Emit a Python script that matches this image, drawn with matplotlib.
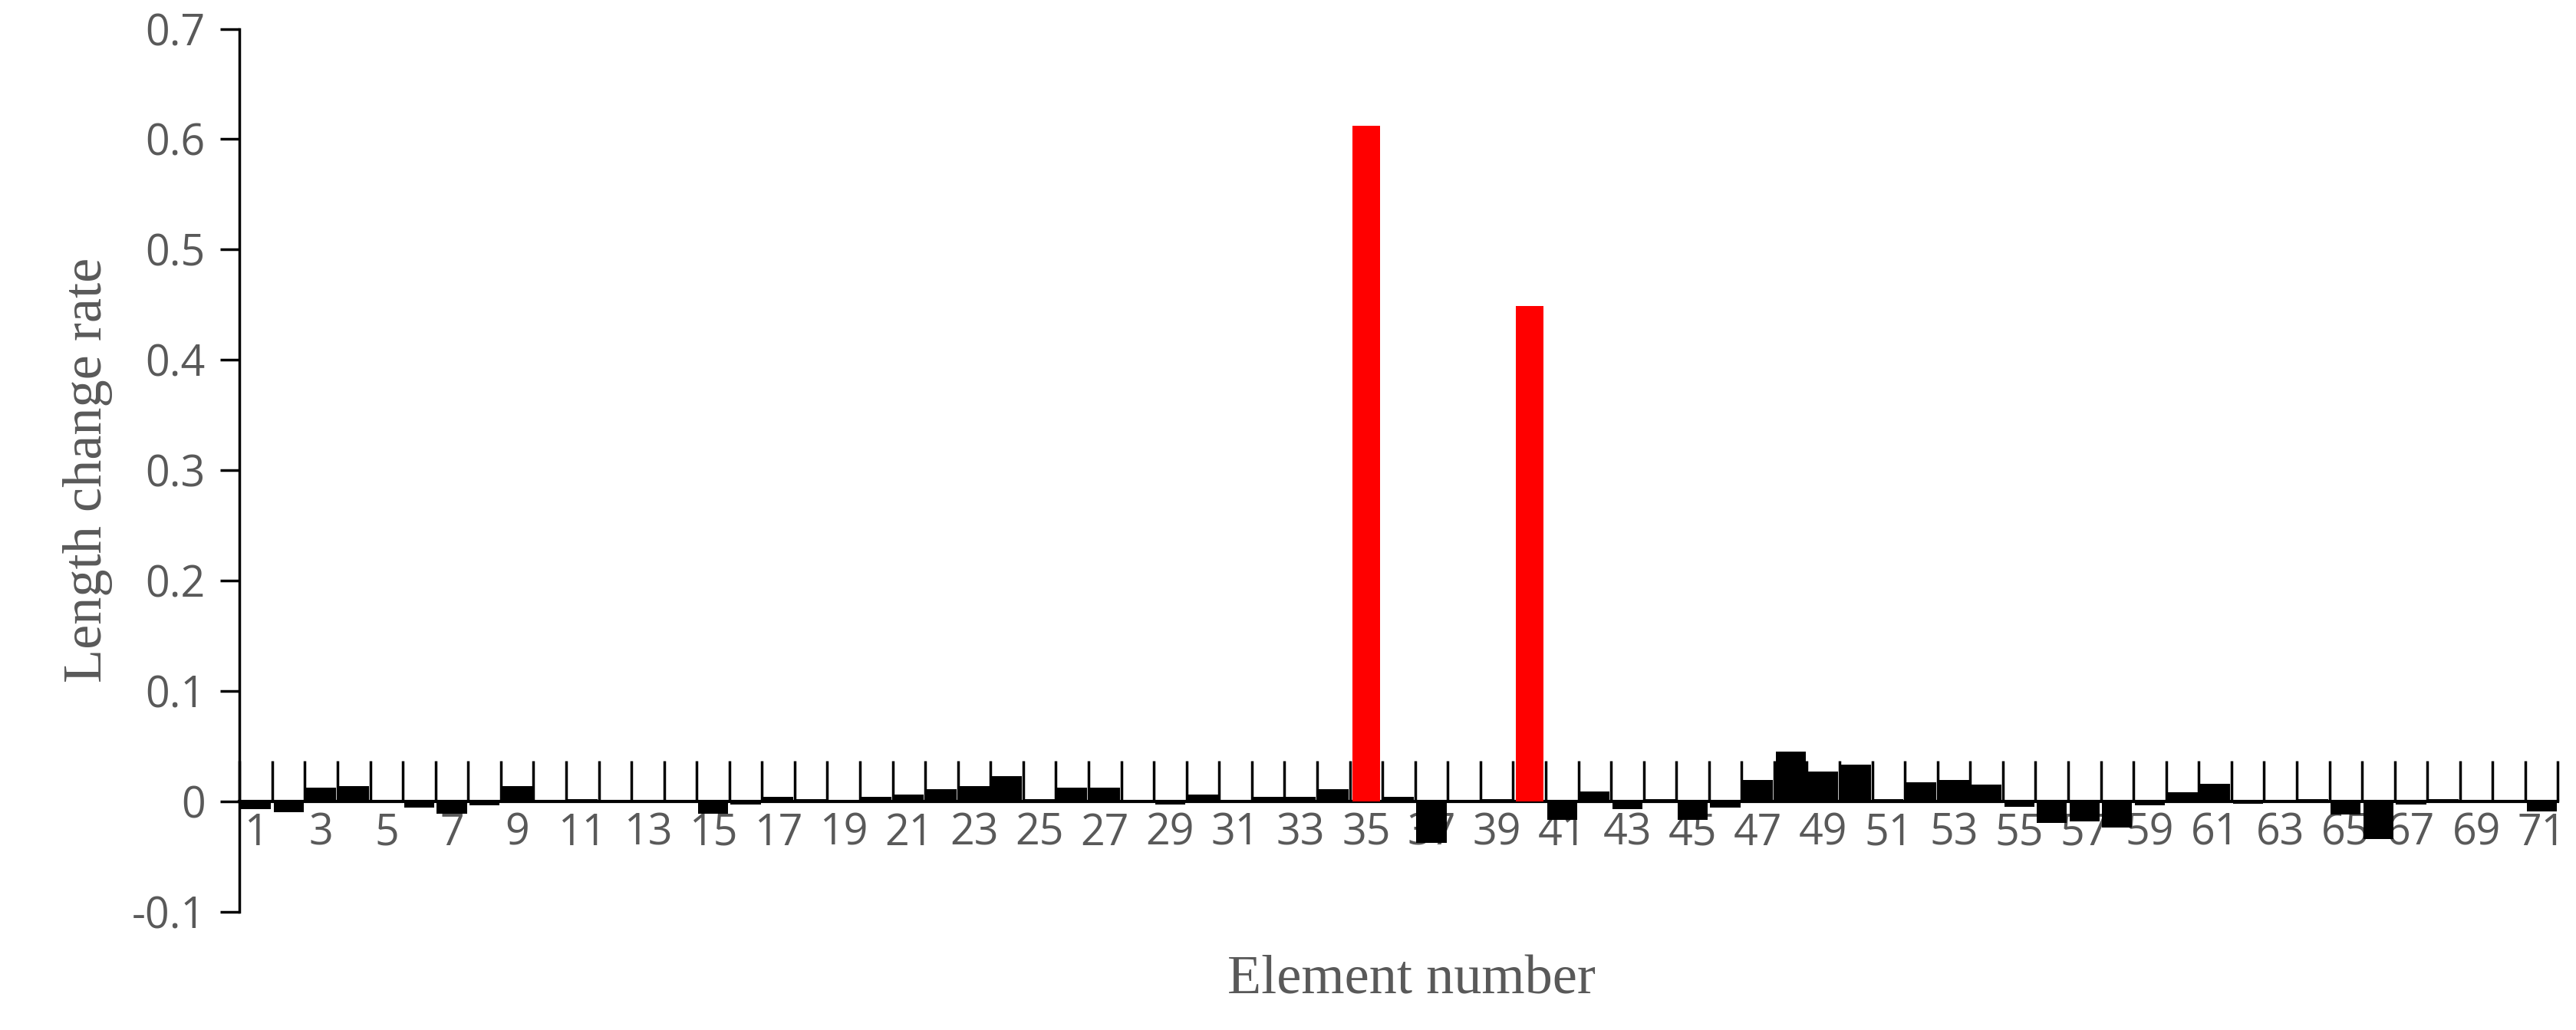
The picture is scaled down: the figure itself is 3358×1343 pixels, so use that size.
import matplotlib
matplotlib.use("Agg")
import matplotlib.pyplot as plt
import numpy as np

elements = list(range(1, 72))
values = [-0.007, -0.010, 0.012, 0.014, 0.0, -0.006, -0.011, -0.004, 0.014, 0.0,
          0.002, 0.0, 0.0, 0.0, -0.011, -0.003, 0.004, 0.002, 0.0, 0.004,
          0.006, 0.011, 0.014, 0.023, 0.002, 0.012, 0.012, 0.0, -0.003, 0.006,
          0.0, 0.004, 0.004, 0.011, 0.612, 0.004, -0.038, 0.0, 0.002, 0.449,
          -0.017, 0.009, -0.007, 0.002, -0.017, -0.006, 0.019, 0.045, 0.027, 0.033,
          0.002, 0.017, 0.019, 0.015, -0.005, -0.020, -0.018, -0.024, -0.004, 0.008,
          0.016, -0.002, 0.0, 0.002, -0.012, -0.034, -0.003, 0.002, 0.0, 0.0, -0.009]
highlight = [35, 40]
yticks = [-0.1, 0, 0.1, 0.2, 0.3, 0.4, 0.5, 0.6, 0.7]
ytick_labels = ["-0.1", "0", "0.1", "0.2", "0.3", "0.4", "0.5", "0.6", "0.7"]

fig = plt.figure(figsize=(33.58, 13.43), dpi=100)
ax = fig.add_axes([0.093, 0.115, 0.9, 0.857])
colors = ["red" if e in highlight else "black" for e in elements]
widths = [0.85 if e in highlight else 0.92 for e in elements]
ax.bar(elements, values, width=widths, color=colors, zorder=3)

ax.set_xlim(0.5, 71.5)
ax.set_ylim(-0.1, 0.7)
for s in ["top", "right"]:
    ax.spines[s].set_visible(False)
ax.spines["bottom"].set_position(("data", 0))
ax.spines["bottom"].set_linewidth(3)
ax.spines["left"].set_linewidth(2.5)

gray = "#595959"
ax.set_xticks(np.arange(0.5, 72, 1))
ax.set_xticklabels([])
ax.tick_params(axis="x", which="major", direction="in", length=38, width=2.5, color="black")
ax.set_xticks(elements[::2], minor=True)
ax.set_xticklabels([str(e) for e in elements[::2]], minor=True)
ax.tick_params(axis="x", which="minor", length=0, pad=10, labelsize=40, labelcolor=gray)
for lab in ax.get_xticklabels(minor=True):
    lab.set_fontfamily("Open Sans")

ax.set_yticks(yticks)
ax.set_yticklabels(ytick_labels, fontfamily="Open Sans")
ax.tick_params(axis="y", direction="out", length=18, width=2.5, labelsize=40, labelcolor=gray, pad=14)

ax.set_ylabel("Length change rate", fontfamily="Liberation Serif", fontsize=52, color=gray, labelpad=18)
fig.text(0.548, 0.035, "Element number", fontfamily="Liberation Serif", fontsize=52, color=gray, ha="center")

fig.savefig("out.png", dpi=100)
